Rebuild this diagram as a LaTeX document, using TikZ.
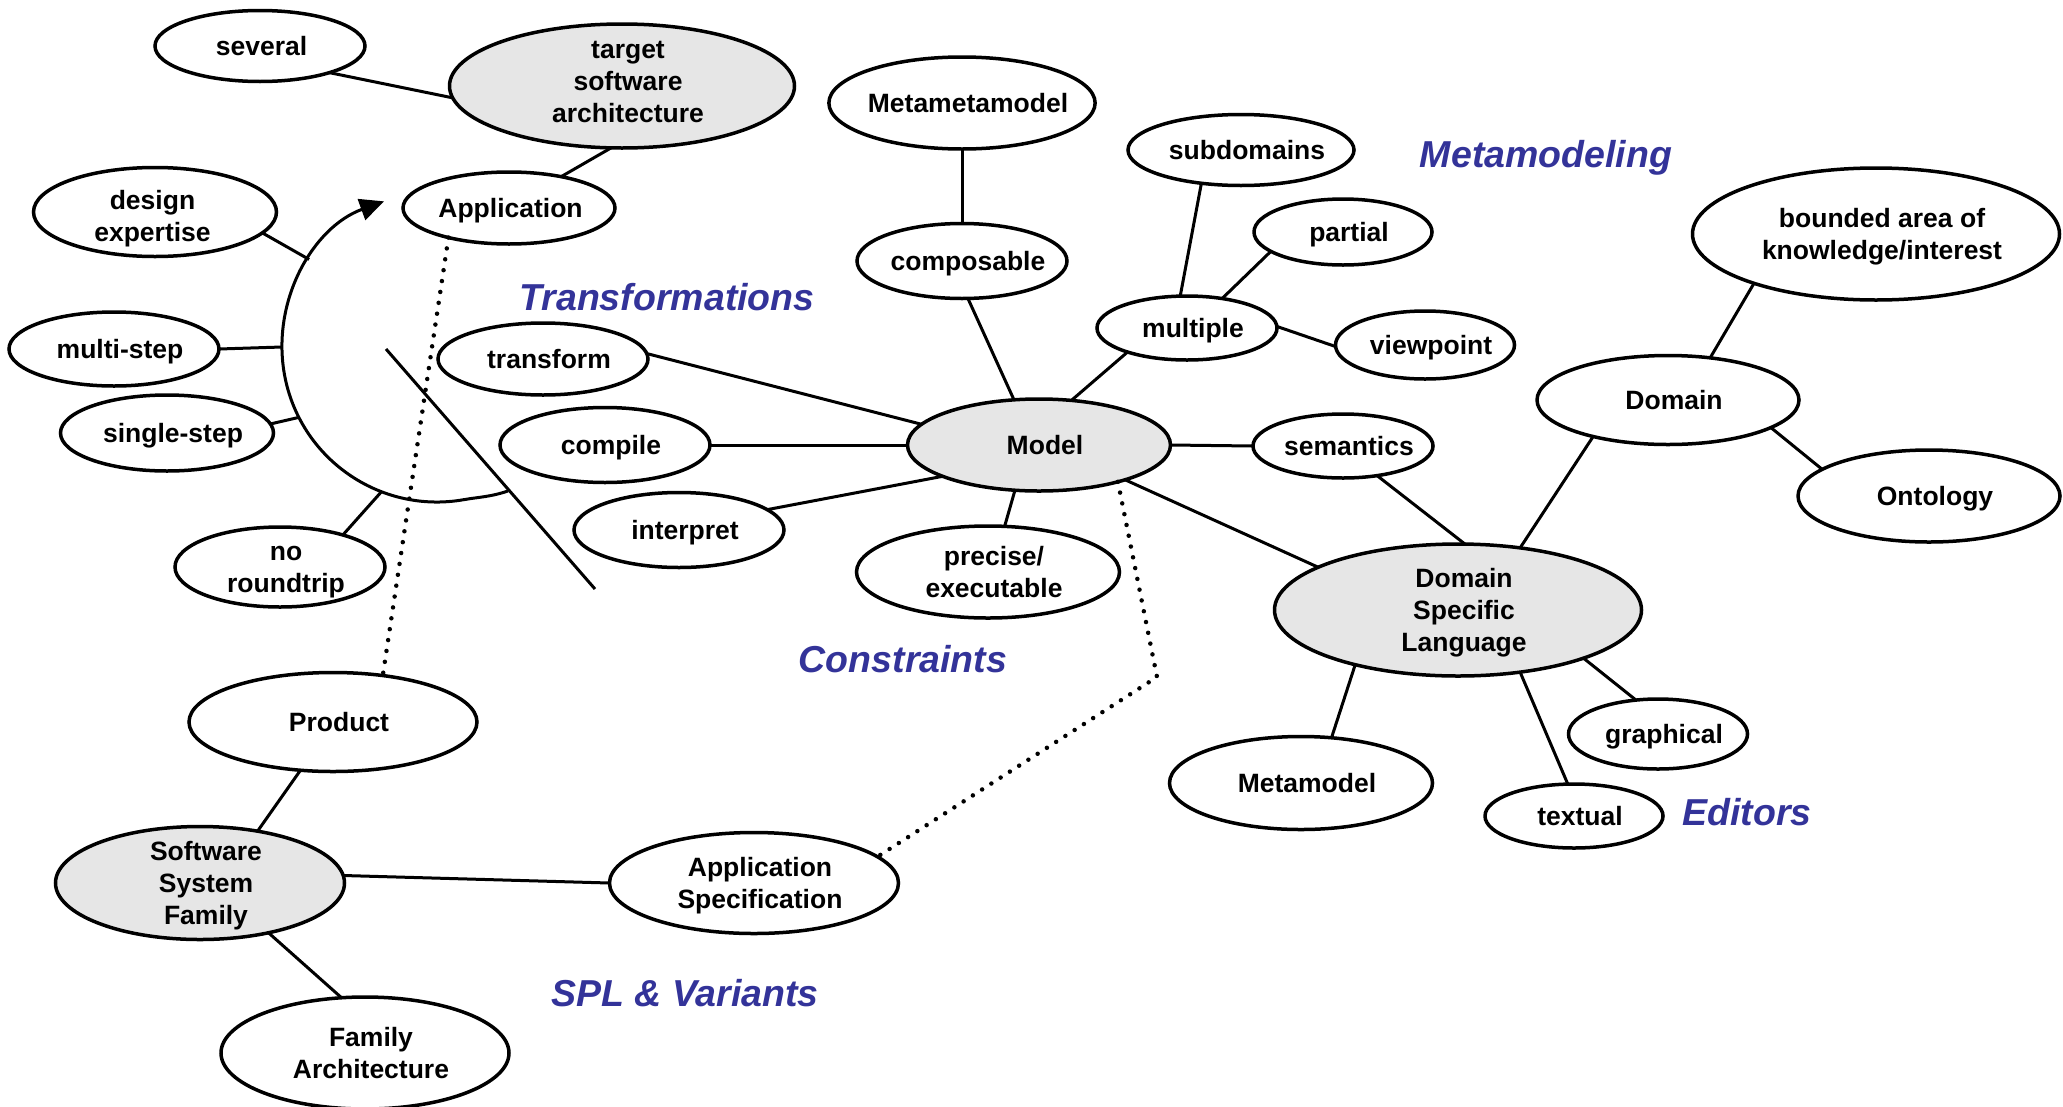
\documentclass[tikz,border=0pt]{standalone}
\usepackage{fontspec}
\setmainfont{Liberation Sans}
\usetikzlibrary{shapes.geometric,arrows.meta,calc}
\definecolor{topicblue}{RGB}{51,51,153}
\definecolor{hubgray}{RGB}{230,230,230}
% bubble caption: bold, centred lines with a fixed strut,
% nudged sideways by \bubshift and raised by \bubrise
\newcommand\bubshift{12pt}
\newcommand\bubrise{0pt}
\newsavebox\bubbox
\newcommand\bubtext[1]{%
  \fontsize{26.5}{32}\selectfont\bfseries
  \setbox\strutbox\hbox{\vrule height25.5pt depth6.5pt width0pt}%
  \sbox\bubbox{\begin{tabular}{@{}c@{}}#1\end{tabular}}%
  \dimen0=\ht\bubbox \dimen2=\dp\bubbox
  \setbox\bubbox\hbox{\raise\bubrise\box\bubbox}%
  \ht\bubbox=\dimen0 \dp\bubbox=\dimen2
  \hspace*{\bubshift}\usebox\bubbox}
\begin{document}
\begin{tikzpicture}[x=1pt,y=-1pt,
  tshift/.code={\def\bubshift{#1}},
  trise/.code={\def\bubrise{#1}},
  bubble/.style={ellipse, draw, line width=3.5pt, fill=white, inner sep=-12pt,
    outer sep=0pt, tshift=12pt, trise=0pt},
  hub/.style={bubble, fill=hubgray},
  sz/.style 2 args={minimum width=#1pt, minimum height=#2pt},
  link/.style={line width=3pt},
  dots/.style={line width=4.5pt, dash pattern=on 0pt off 11pt, line cap=round},
  topic/.style={text=topicblue, font=\fontsize{37.5}{40}\selectfont\bfseries\itshape},
  flow/.style={line width=3pt, -{Triangle[length=24pt, width=22pt]}},
]
\useasboundingbox (0,0) rectangle (2063,1106);

% --- transformation branch
\node[bubble, sz={210}{71}, tshift=3pt] (several) at (260,46) {\bubtext{several}};
\node[hub, sz={345}{124}, trise=5pt] (target) at (622,86) {\bubtext{target\\software\\architecture}};
\node[bubble, sz={212}{72}, tshift=3pt] (appl) at (509,208) {\bubtext{Application}};
\node[bubble, sz={243}{89}, tshift=-5pt, trise=-4pt] (design) at (155,212) {\bubtext{design\\expertise}};
\node[bubble, sz={210}{74}] (multi) at (114,349) {\bubtext{multi-step}};
\node[bubble, sz={213}{76}] (single) at (167,433) {\bubtext{single-step}};
\node[bubble, sz={210}{80}] (noround) at (280,567) {\bubtext{no\\roundtrip}};
\node[bubble, sz={210}{72}] (transform) at (543,359) {\bubtext{transform}};
\node[bubble, sz={210}{75}] (compile) at (605,445) {\bubtext{compile}};
\node[bubble, sz={210}{75}] (interpret) at (679,530) {\bubtext{interpret}};

% --- model and metamodeling
\node[hub, sz={263}{92}] (model) at (1039,445) {\bubtext{Model}};
\node[bubble, sz={263}{92}] (precise) at (988,572) {\bubtext{precise/\\executable}};
\node[bubble, sz={210}{75}] (composable) at (962,261) {\bubtext{composable}};
\node[bubble, sz={263}{92}] (metameta) at (962,103) {\bubtext{Metametamodel}};
\node[bubble, sz={226}{71}] (subdomains) at (1241,150) {\bubtext{subdomains}};
\node[bubble, sz={178}{66}] (partial) at (1343,232) {\bubtext{partial}};
\node[bubble, sz={180}{64}] (multiple) at (1187,328) {\bubtext{multiple}};
\node[bubble, sz={179}{68}] (viewpoint) at (1425,345) {\bubtext{viewpoint}};
\node[bubble, sz={180}{64}] (semantics) at (1343,446) {\bubtext{semantics}};

% --- domain specific language
\node[hub, sz={367}{132}] (dsl) at (1458,610) {\bubtext{Domain\\Specific\\Language}};
\node[bubble, sz={262}{89}] (domain) at (1668,400) {\bubtext{Domain}};
\node[bubble, sz={367}{132}] (bounded) at (1876,234) {\bubtext{bounded area of\\knowledge/interest}};
\node[bubble, sz={262}{92}] (ontology) at (1929,496) {\bubtext{Ontology}};
\node[bubble, sz={179}{70}] (graphical) at (1658,734) {\bubtext{graphical}};
\node[bubble, sz={263}{93}] (metamodel) at (1301,783) {\bubtext{Metamodel}};
\node[bubble, sz={178}{64}] (textual) at (1574,816) {\bubtext{textual}};

% --- product line
\node[bubble, sz={288}{99}] (product) at (333,722) {\bubtext{Product}};
\node[hub, sz={289}{113}] (family) at (200,883) {\bubtext{Software\\System\\Family}};
\node[bubble, sz={289}{101}] (appspec) at (754,883) {\bubtext{Application\\Specification}};
\node[bubble, sz={288}{112}] (famarch) at (365,1053) {\bubtext{Family\\Architecture}};

% --- topic captions
\node[topic] (tMeta) at (1546,158) {Metamodeling};
\node[topic] (tTrans) at (667,297) {Transformations};
\node[topic] (tCons) at (903,659) {Constraints};
\node[topic] (tEdit) at (1747,812) {Editors};
\node[topic] (tSpl) at (685,993) {SPL \& Variants};

% --- transformation arc and separator
\coordinate (arcC) at (437,347);
\coordinate (arcEnd) at (508,491);
\coordinate (arcD) at ([shift={(214.4:155)}]arcC);
\coordinate (arcM) at ([shift={(180:155)}]arcC);
\coordinate (arcS) at ([shift={(153:155)}]arcC);
\coordinate (arcN) at ([shift={(111:155)}]arcC);
\coordinate (sepA) at (386,349);
\coordinate (sepB) at (595,589);
\coordinate (bend) at (1157,677);

\draw[flow] (arcEnd) .. controls (490,497) and (479,497) ..
  ([shift={(80:155)}]arcC) arc[start angle=80, end angle=250, radius=155];
\draw[link] (sepA) -- (sepB);

\draw[link] (design.-11) -- (arcD);
\draw[link] (multi.0) -- (arcM);
\draw[link] (single.5.6) -- (arcS);
\draw[link] (noround.27.3) -- (arcN);

\draw[link] (several.-21.3) -- (target.184.7);
\draw[link] (target.260.7) -- (appl.31.8);

\draw[link] (transform.3.4) -- (model.170);
\draw[link] (compile.0) -- (model.180);
\draw[link] (interpret.13.9) -- (model.198.8);
\draw[link] (precise.70.8) -- (model.242);
\draw[link] (composable.279) -- (model.119.6);
\draw[link] (metameta.270) -- (composable.90);
\draw[link] (model.54.3) -- (multiple.202.3);
\draw[link] (multiple.102.7) -- (subdomains.220.6);
\draw[link] (multiple.40) -- (partial.195.4);
\draw[link] (multiple.1.3) -- (viewpoint.181.2);
\draw[link] (model.0) -- (semantics.180);
\draw[link] (semantics.-41) -- (dsl.84.7);
\draw[link] (model.-22.2) -- (dsl.163.3);

\draw[link] (dsl.45.5) -- (domain.206.3);
\draw[link] (domain.45) -- (bounded.202.6);
\draw[link] (domain.-15) -- (ontology.166.6);
\draw[link] (dsl.208.1) -- (metamodel.56.3);
\draw[link] (dsl.-45) -- (textual.101);
\draw[link] (dsl.-21) -- (graphical.123.7);

\draw[link] (product.236.6) -- (family.42.5);
\draw[link] (family.3.6) -- (appspec.180);
\draw[link] (family.-36.6) -- (famarch.113.2);

% --- dotted correspondences
\draw[dots] (appl.206) -- (product.43);
\draw[dots] (model.-25.2) -- (bend) -- (appspec.12.6);
\end{tikzpicture}
\end{document}
